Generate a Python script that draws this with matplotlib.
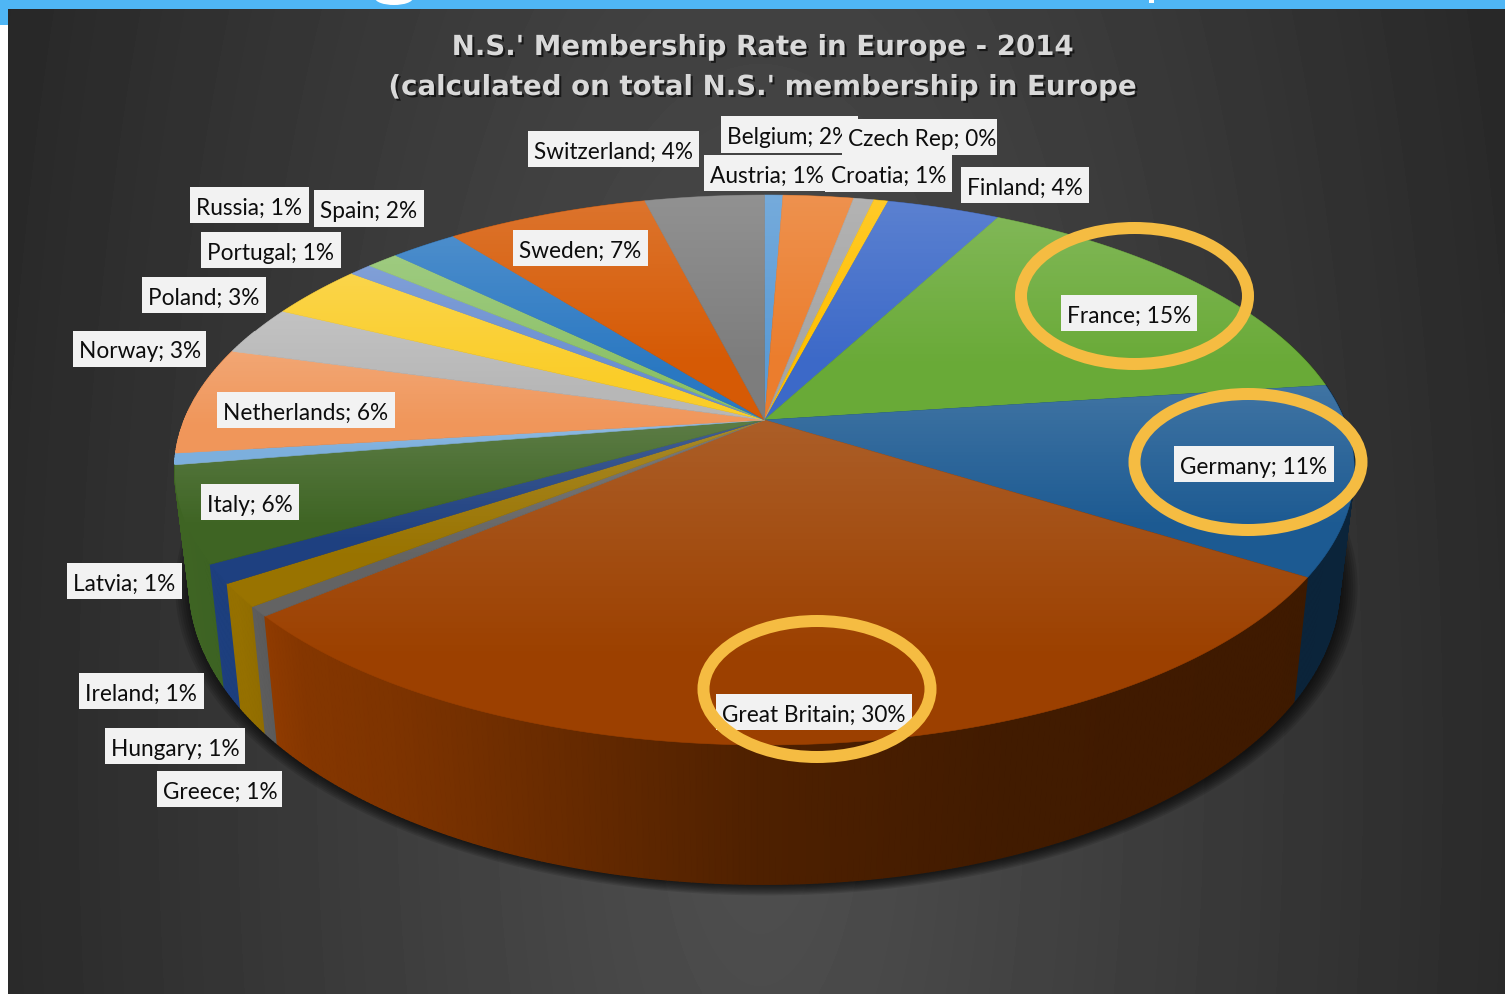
import numpy as np
import matplotlib
matplotlib.use("Agg")
import matplotlib.pyplot as plt
import matplotlib.patheffects as pe
from matplotlib.collections import PolyCollection
from matplotlib.patches import Ellipse, Rectangle, Polygon
from matplotlib.path import Path
from matplotlib.transforms import Transform, Affine2D

countries = ["Austria", "Belgium", "Croatia", "Czech Rep", "Finland", "France", "Germany",
             "Great Britain", "Greece", "Hungary", "Ireland", "Italy", "Latvia", "Netherlands",
             "Norway", "Poland", "Portugal", "Russia", "Spain", "Sweden", "Switzerland"]
shares = [0.6, 2.3, 0.66, 0.47, 3.7, 15.1, 11.1, 29.7, 0.58, 1.36, 1.11, 5.6, 0.67, 6.3,
          2.9, 3.2, 0.75, 1.05, 2.2, 6.6, 3.9]
colors = ["#5B9BD5", "#EB7D2D", "#A5A5A5", "#FFC000", "#3C69C8", "#69AA37", "#1C5A92",
          "#9C4000", "#636363", "#997300", "#1E4080", "#3E6423", "#7CAFDD", "#F0965A",
          "#B7B7B7", "#FACD28", "#698ED0", "#8CC168", "#2A78C2", "#D65A05", "#7D7D7D"]
title_lines = ["N.S.' Membership Rate in Europe - 2014",
               "(calculated on total N.S.' membership in Europe"]
highlighted = ["France", "Germany", "Great Britain"]

# label box edges in figure pixels: left, right, top, bottom
boxes = {"Austria": (704, 826, 155, 191), "Belgium": (721, 858, 116, 153),
         "Croatia": (825, 952, 155, 192), "Czech Rep": (842, 997, 119, 155),
         "Finland": (961, 1089, 167, 203), "France": (1061, 1197, 295, 331),
         "Germany": (1174, 1334, 446, 482), "Great Britain": (716, 912, 694, 730),
         "Greece": (157, 282, 771, 807), "Hungary": (105, 245, 728, 764),
         "Ireland": (79, 204, 673, 709), "Italy": (201, 299, 484, 520),
         "Latvia": (67, 182, 563, 599), "Netherlands": (217, 395, 392, 428),
         "Norway": (73, 206, 331, 367), "Poland": (142, 266, 277, 313),
         "Portugal": (201, 341, 232, 268), "Russia": (190, 309, 187, 223),
         "Spain": (314, 424, 190, 227), "Sweden": (513, 648, 230, 266),
         "Switzerland": (528, 699, 131, 167)}
rings = {"France": (1134.5, 296), "Germany": (1248, 462), "Great Britain": (817, 689)}

W, H = 1505, 994
CX, CY, A, B, K = 764.5, 420.0, 580.0, 265.9, 0.1818


class Tilt(Transform):
    """Perspective view of the unit disc, in figure pixels."""
    input_dims = output_dims = 2
    is_separable = False
    has_inverse = False

    def transform_non_affine(self, values):
        v = np.asarray(values, float)
        w = 1 + K * v[:, 1]
        return np.column_stack([CX + A * v[:, 0] / w, CY - B * v[:, 1] / w])

    def transform_path_non_affine(self, path):
        s = 3000.0
        polys = path.to_polygons(Affine2D().scale(s), closed_only=True)
        pts = np.vstack(polys) / s
        return Path(self.transform_non_affine(pts), closed=True)


def lower(xy):
    return np.column_stack([CX + 0.975 * (xy[:, 0] - CX), CY + 1.09 * (xy[:, 1] - CY) + 110])


fig = plt.figure(figsize=(W / 100, H / 100), dpi=100)
ax = fig.add_axes([0, 0, 1, 1])
tilt = Tilt()

wedges, _ = ax.pie(shares, colors=colors, startangle=90, counterclock=False, radius=1,
                   wedgeprops=dict(linewidth=0.4, zorder=5))
for w, c in zip(wedges, colors):
    w.set_edgecolor(c)
    w.set_transform(tilt + ax.transData)
ax.set_aspect("auto")
ax.set_xlim(0, W)
ax.set_ylim(H, 0)
ax.axis("off")

# page + dark backdrop
yy, xx = np.mgrid[0:H:4, 0:W:4]
r = np.sqrt(((xx - 760) / 760.0) ** 2 + ((yy - 760) / 2000.0) ** 2)
ax.imshow(np.clip(80 - 38 * r, 30, 95) / 255.0, cmap="gray", vmin=0, vmax=1, extent=(0, W, H, 0),
          aspect="auto", zorder=0, interpolation="bilinear")
ax.add_patch(Rectangle((0, 0), 8, H, fc="white", ec="none", zorder=1))
ax.add_patch(Rectangle((0, 0), W, 9, fc="#4FB6F5", ec="none", zorder=1))
ax.add_patch(Rectangle((0, 9), 8, 16, fc="#4FB6F5", ec="none", zorder=1))
ax.add_patch(Ellipse((394, -2), 38, 14, fc="white", ec="none", zorder=2))
ax.add_patch(Rectangle((1149, 0), 5, 3, fc="white", ec="none", zorder=2))

# soft shadow under the cake
t = np.radians(np.linspace(0, 360, 361))
rim = tilt.transform_non_affine(np.column_stack([np.cos(t), np.sin(t)]))
base = lower(rim)
cen = base.mean(axis=0)
for g in np.linspace(1.028, 1.0, 8):
    ax.add_patch(Polygon((base - cen) * g + cen + [2, 2], closed=True, fc="black", ec="none",
                         alpha=0.11, zorder=2))

# side wall, far quads first
quads, qcols, depth = [], [], []
for w, c in zip(wedges, colors):
    rgb = np.array(matplotlib.colors.to_rgb(c))
    th = np.radians(np.linspace(w.theta1, w.theta2, max(3, int(2 * (w.theta2 - w.theta1)) + 2)))
    top = tilt.transform_non_affine(np.column_stack([np.cos(th), np.sin(th)]))
    bot = lower(top)
    for i in range(len(th) - 1):
        if np.sin(th[i]) > 0.35 and np.sin(th[i + 1]) > 0.35:
            continue
        quads.append([top[i], top[i + 1], bot[i + 1], bot[i]])
        f = np.interp(top[i:i + 2, 0].mean(), [180, 240, 300, 400, 760, 1000, 1300],
                      [1, 0.97, 0.85, 0.8, 0.5, 0.42, 0.4])
        qcols.append(rgb * f)
        depth.append(np.sin(th[i:i + 2]).mean())
order = np.argsort(depth)[::-1]
ax.add_collection(PolyCollection([quads[i] for i in order], facecolors=[qcols[i] for i in order],
                                 edgecolors=[qcols[i] for i in order], linewidths=1.0, zorder=3))

# light falling off each slice from its upper edge
for i, w in enumerate(wedges):
    ys = tilt.transform_path_non_affine(w.get_path()).vertices
    y0, y1 = ys[:, 1].min(), ys[:, 1].max()
    xs0, xs1 = ys[:, 0].min(), ys[:, 0].max()
    s = np.linspace(0, 1, 128)
    grad = np.ones((128, 1, 4))
    grad[:, :, 3] = (0.16 * np.clip(1 - s / 0.75, 0, 1))[:, None]
    im = ax.imshow(grad, extent=(xs0, xs1, y1, y0), aspect="auto", zorder=6, interpolation="bilinear")
    im.set_clip_path(w)

# labels
for i, (name, share) in enumerate(zip(countries, shares)):
    l, r_, t_, b_ = boxes[name]
    ax.add_patch(Rectangle((l, t_), r_ - l, b_ - t_, fc="#F2F2F2", ec="none", zorder=10 + i * 0.1))
    txt = ax.text(l + 6, (t_ + b_) / 2 + 3, f"{name}; {round(share / sum(shares) * 100)}%", ha="left",
                  va="center", fontsize=16.3, family="Lato", color="#0d0d0d", zorder=10.05 + i * 0.1)
    txt.set_clip_path(Rectangle((l, t_), r_ - l, b_ - t_, transform=ax.transData))

# highlight rings
for name in highlighted:
    ax.add_patch(Ellipse(rings[name], 227, 136, fc="none", ec="#F5BC42", lw=12 * 0.72, zorder=13))

# title
for line, y in zip(title_lines, (47, 87)):
    ax.text(763, y, line, ha="center", va="center", fontsize=19.9, family="DejaVu Sans", weight="bold",
            color="#D9D9D9", zorder=14,
            path_effects=[pe.withSimplePatchShadow(offset=(1.5, -1.5), shadow_rgbFace="black", alpha=0.6)])

ax.set_xlim(0, W)
ax.set_ylim(H, 0)
fig.savefig("out.png", dpi=100)
